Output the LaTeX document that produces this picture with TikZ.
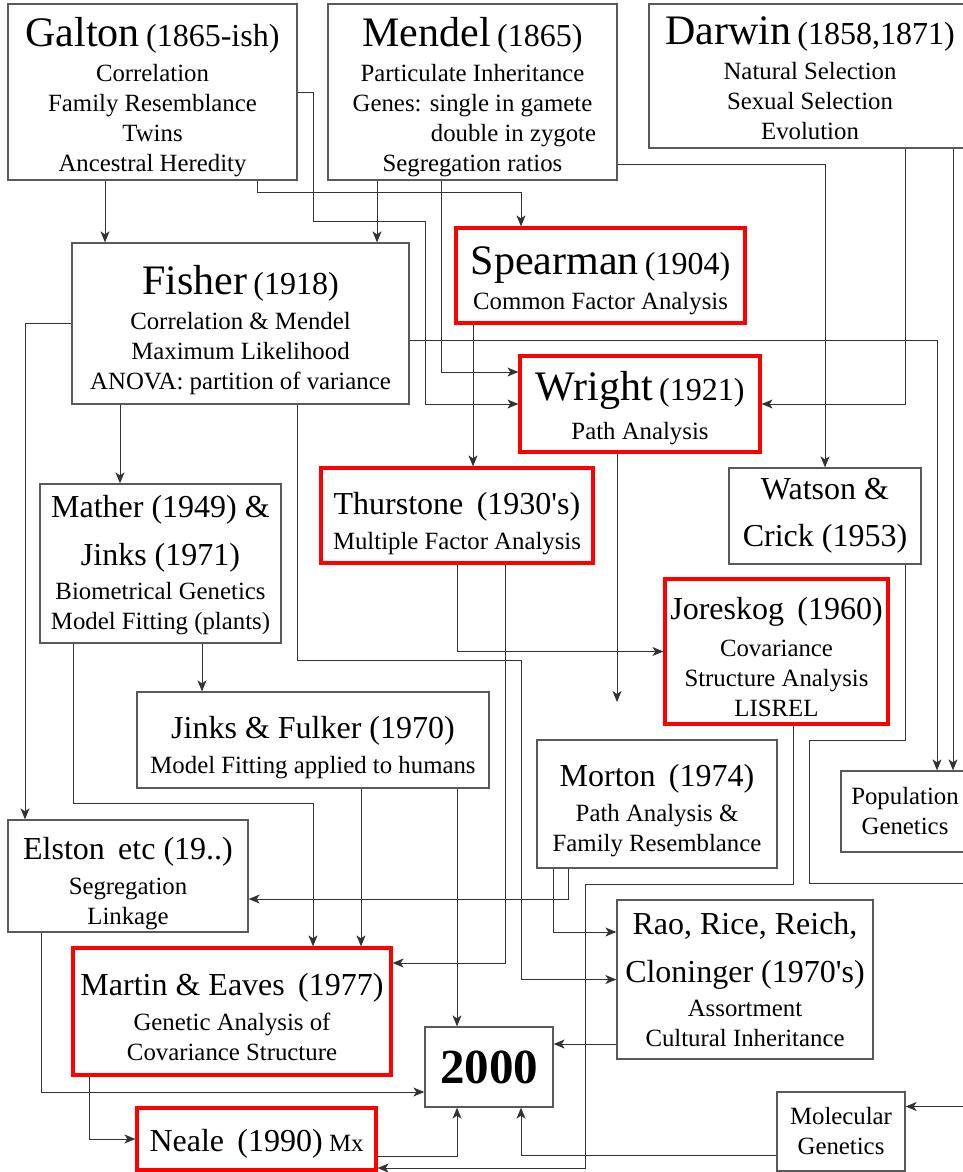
\documentclass[tikz,border=0pt]{standalone}
\usepackage{fontspec}
\setmainfont{Liberation Serif}
\usetikzlibrary{arrows.meta}

\newcommand{\who}[1]{{\fontsize{42}{42}\selectfont #1}}
\newcommand{\when}[1]{{\fontsize{32}{32}\selectfont #1}}
\newcommand{\head}[1]{{\fontsize{32}{32}\selectfont #1}}
\newcommand{\topstrut}[1]{\rule{0pt}{#1pt}}

\begin{document}
\begin{tikzpicture}[x=1pt, y=-1pt,
    >={Stealth[length=11pt, width=9pt, inset=3pt]},
    every node/.style={font=\fontsize{24.8}{30}\selectfont},
    box/.style={draw=black!65, line width=1.3pt, fill=white, inner sep=0pt, align=center},
    keybox/.style={box, draw=red, line width=3.2pt},
    link/.style={->, draw=black!80, line width=1pt}]
    \useasboundingbox (0,0) rectangle (963,1172);
    \clip (0,0) rectangle (963,1172);

    % Founders
    \node[box, minimum width=289, minimum height=176] (galton) at (152.5,92)
        {\topstrut{39}\who{Galton} \when{(1865-ish)}\\[5pt] Correlation\\ Family Resemblance\\ Twins\\ Ancestral Heredity};
    \node[box, minimum width=289, minimum height=176] (mendel) at (472.5,92)
        {\topstrut{39}\who{Mendel} \when{(1865)}\\[5pt] Particulate Inheritance\\ Genes: single in gamete\\ \hspace*{82pt}double in zygote\\ Segregation ratios};
    \node[box, minimum width=322, minimum height=144] (darwin) at (810,76)
        {\topstrut{33}\who{Darwin} \when{(1858,1871)}\\[5pt] Natural Selection\\ Sexual Selection\\ Evolution};

    % Second generation
    \node[box, minimum width=337, minimum height=161] (fisher) at (240.5,323.5)
        {\topstrut{42}\who{Fisher} \when{(1918)}\\[5pt] Correlation \& Mendel\\ Maximum Likelihood\\ ANOVA: partition of variance};
    \node[keybox, minimum width=289, minimum height=95] (spearman) at (600.5,275.5)
        {\topstrut{39}\who{Spearman} \when{(1904)}\\[5pt] Common Factor Analysis};
    \node[keybox, minimum width=240, minimum height=96] (wright) at (640,404)
        {\topstrut{37}\who{Wright} \when{(1921)}\\[9pt] Path Analysis};

    % Middle
    \node[box, minimum width=241, minimum height=159] (mather) at (160.5,563.5)
        {\topstrut{26}\head{Mather (1949) \&}\\[18pt] \head{Jinks (1971)}\\[4pt] Biometrical Genetics\\ Model Fitting (plants)};
    \node[keybox, minimum width=272, minimum height=95] (thurstone) at (457,515.5)
        {\topstrut{38}\head{Thurstone\, (1930\textquotesingle s)}\\[5pt] Multiple Factor Analysis};
    \node[box, minimum width=192, minimum height=96] (watson) at (825,516)
        {\head{Watson \&}\\[17pt] \head{Crick (1953)}};
    \node[keybox, minimum width=223, minimum height=145] (joreskog) at (776.5,651.5)
        {\topstrut{33}\head{Joreskog\, (1960)}\\[7pt] Covariance\\ Structure Analysis\\ LISREL};
    \node[box, minimum width=352, minimum height=96] (fulker) at (313,740)
        {\topstrut{37}\head{Jinks \& Fulker (1970)}\\[5pt] Model Fitting applied to humans};
    \node[box, minimum width=240, minimum height=128] (morton) at (657,804)
        {\topstrut{36}\head{Morton\, (1974)}\\[5pt] Path Analysis \&\\ Family Resemblance};
    \node[box, minimum width=128, minimum height=81] (popgen) at (905,811.5)
        {Population\\ Genetics};

    % Lower part
    \node[box, minimum width=240, minimum height=112] (elston) at (128,876)
        {\topstrut{37}\head{Elston\, etc (19..)}\\[5pt] Segregation\\ Linkage};
    \node[box, minimum width=256, minimum height=159] (rao) at (745,979.5)
        {\head{Rao, Rice, Reich,}\\[18pt] \head{Cloninger (1970\textquotesingle s)}\\[4pt] Assortment\\ Cultural Inheritance};
    \node[keybox, minimum width=318, minimum height=127] (martin) at (232,1011.5)
        {\topstrut{33}\head{Martin \& Eaves\, (1977)}\\[5pt] Genetic Analysis of\\ Covariance Structure};
    \node[box, minimum width=128, minimum height=80] (yr2000) at (489,1067)
        {\fontsize{49}{49}\selectfont\bfseries 2000};
    \node[keybox, minimum width=239, minimum height=62] (neale) at (256.5,1139)
        {\topstrut{32}\head{Neale\, (1990)} Mx};
    \node[box, minimum width=128, minimum height=79] (molec) at (841,1131.5)
        {Molecular\\ Genetics};

    % Galton
    \draw[link] (galton.south) ++(-47.5,0) coordinate (g1) -- (g1 |- fisher.north);
    \draw[link] (galton.east) -- ++(16,0) -- ++(0,129) -- ++(112,0) |- (wright.west);
    \draw[link] (galton.south) ++(104.5,0) -- ++(0,12) -| ([xshift=-79.5]spearman.north);

    % Mendel
    \draw[link] (mendel.south) ++(-95.5,0) coordinate (m1) -- (m1 |- fisher.north);
    \draw[link] (mendel.south) ++(-31.5,0) |- ([yshift=32]wright.west);
    \draw[link] ([yshift=-72]mendel.east) -| (watson.north);

    % Darwin
    \draw[link] (darwin.south) ++(95,0) |- (wright.east);
    \draw[link] (darwin.south) ++(143,0) coordinate (d1) -- (d1 |- popgen.north);

    % Fisher
    \draw[link] ([yshift=-16.5]fisher.east) -| ([xshift=32]popgen.north);
    \draw[link] (fisher.west) -| ([xshift=-103]elston.north);
    \draw[link] (fisher.south) ++(-120.5,0) coordinate (f1) -- (f1 |- mather.north);
    \draw[link] (fisher.south) ++(56.5,0) -- ++(0,256) -- ++(224,0) |- (rao.west);

    % Spearman, Thurstone, Wright, Watson
    \draw[link] (spearman.south) ++(-127.5,0) coordinate (s1) -- (s1 |- thurstone.north);
    \draw[link] (thurstone.south) |- (joreskog.west);
    \draw[link] (thurstone.south) ++(48,0) |- ([yshift=48.5]martin.east);
    \coordinate (wend) at (617,702);
    \draw[link] (wright.south) ++(-23,0) -- (wend);
    \draw[link] (watson.south) ++(80,0) -- ++(0,176) -- ++(-96,0) -- ++(0,143) -- ++(170,0) |- ([yshift=25]molec.east);

    % Joreskog, Morton
    \draw[link] (joreskog.south) ++(16.5,0) -- ++(0,159) -- ++(-208,0) |- ([yshift=-29]neale.east);
    \draw[link] (morton.south) ++(-89,0) |- ([yshift=-23]elston.east);
    \draw[link] (morton.south) ++(-104,0) |- ([yshift=47.5]rao.west);

    % Mather, Jinks & Fulker
    \draw[link] (mather.south) ++(41.5,0) coordinate (mj) -- (mj |- fulker.north);
    \draw[link] (mather.south) ++(-87.5,0) -- ++(0,160) -| ([xshift=81]martin.north);
    \draw[link] (fulker.south) ++(48,0) coordinate (fj) -- (fj |- martin.north);
    \draw[link] (fulker.south) ++(144,0) coordinate (fk) -- (fk |- yr2000.north);

    % Into 2000
    \draw[link] (elston.south) ++(-87,0) |- ([yshift=-25]yr2000.west);
    \draw[link] (martin.south) ++(-143,0) |- (neale.west);
    \draw[link] ([yshift=-17]neale.east) -| ([xshift=-32]yr2000.south);
    \draw[link] ([yshift=-64.5]rao.west) -- ([yshift=23]yr2000.east);
    \draw[link] ([yshift=-24]molec.west) -| ([xshift=32]yr2000.south);
\end{tikzpicture}
\end{document}
